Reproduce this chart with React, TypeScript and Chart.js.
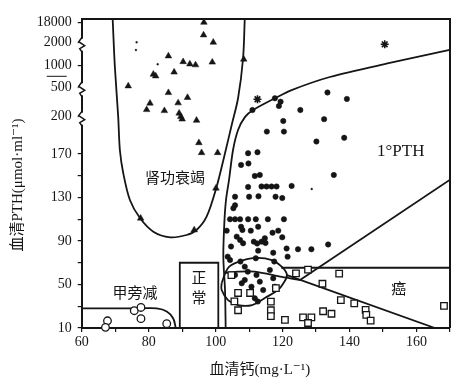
import React, { useEffect, useRef } from "react";
import { Chart, registerables } from "chart.js";

Chart.register(...registerables);

// ---------- axis definitions ----------
const X_MIN = 60;
const X_MAX = 170;
const xLabelled = [60, 80, 100, 120, 140, 160];

const yTicks = [10, 30, 50, 70, 90, 110, 130, 150, 170, 200, 500, 1000, 2000, 18000];
const yLabelled = [10, 50, 90, 130, 170, 200, 500, 1000, 2000, 18000];
const Y_MIN = 10;
const Y_TOP = 20650;

// broken (compressed) upper part of the PTH axis: value -> axis unit
const breakValues = [170, 200, 500, 1000, 2000, 18000];
const breakUnits = [170, 204.3, 231.3, 251.2, 272.3, 291.0];
const breakMarks = [2000, 500, 200];

// ---------- data: [serum Ca (mg/L), PTH] ----------
const renalFailure: [number, number][] = [
  [96.5, 18000], [96.4, 8070], [99.3, 2300], [85.9, 1420], [90.3, 1170], [92.3, 1070],
  [94.0, 1030], [99.0, 1150], [87.6, 850], [81.4, 800], [82.1, 760], [73.9, 530],
  [85.9, 445], [91.6, 395], [80.4, 337], [88.8, 340], [79.4, 271], [84.7, 261],
  [89.1, 235], [89.6, 200], [90.0, 198], [94.3, 197], [95.0, 179], [95.8, 171],
  [100.6, 171], [108.4, 1278], [100.1, 138.5], [93.6, 100.1], [77.6, 110.9],
];

const primaryHPT: [number, number][] = [
  [117.7, 388], [111.0, 268], [119.4, 353], [118.9, 309], [133.4, 447], [139.2, 381],
  [125.3, 268], [132.4, 198], [120.2, 196.5], [120.4, 188], [115.3, 188], [130.1, 180],
  [138.4, 183], [112.5, 171.4], [109.7, 170.6], [109.8, 161.3], [107.6, 159.9],
  [113.2, 150.7], [111.7, 149.8], [135.3, 150.7], [109.7, 139.7], [113.7, 140.1],
  [115.2, 140.1], [116.7, 140.1], [118.2, 140.1], [122.7, 140.6], [105.8, 130.7],
  [110.0, 130.7], [112.8, 131.1], [117.9, 130.7], [119.9, 129.5], [105.8, 122.8],
  [105.3, 120.1], [104.3, 110], [105.8, 110], [107.3, 110], [109.7, 110], [112.0, 110],
  [115.6, 110], [120.4, 110], [103.3, 99.5], [107.6, 103.1], [108.0, 100.1], [110.5, 99.5],
  [112.7, 103.1], [117.0, 97.6], [118.7, 99.5], [119.9, 93.4], [106.3, 94.0], [107.3, 90.9],
  [108.2, 87.9], [111.4, 89.4], [112.4, 87.7], [113.7, 89.4], [114.7, 92.5], [114.9, 88.2],
  [104.6, 84.9], [112.7, 81.1], [117.2, 79.2], [121.2, 83.1], [124.6, 82.4], [128.6, 82.4],
  [133.6, 86.8], [121.5, 75.6], [103.6, 75.6], [104.3, 72.5], [107.4, 71.1], [112.0, 74.1],
  [117.5, 71.1], [108.7, 66.4], [109.6, 61.8], [112.2, 58.7], [116.2, 63.3], [117.2, 55.7],
  [105.8, 58.7], [108.7, 54.1], [107.8, 51.1], [110.7, 48.0], [113.2, 52.6], [114.2, 44.9],
  [111.7, 37.3], [117.7, 48.0], [112.6, 34.4],
];

const hypoPara: [number, number][] = [
  [67.7, 16.6], [67.1, 10.6], [75.7, 25.9], [77.7, 28.9], [77.7, 18.6], [85.4, 14.0],
];

const cancer: [number, number][] = [
  [104.7, 58.7], [106.7, 42.2], [110.3, 42.2], [105.6, 34.4], [106.7, 26.3], [116.5, 34.2],
  [116.5, 26.3], [116.5, 21.0], [118.0, 46.6], [120.7, 17.4], [124.0, 60.2], [127.6, 63.6],
  [126.1, 19.7], [128.6, 19.7], [127.6, 14.6], [131.9, 50.7], [132.1, 25.4], [134.6, 23.1],
  [136.9, 60.0], [137.4, 35.7], [141.4, 32.6], [144.8, 26.6], [145.0, 22.1], [146.3, 16.8],
  [168.2, 30.4],
];

const starred: [number, number][] = [[150.5, 1930], [112.5, 378]];
const specks: [number, number][] = [[76.4, 2315], [76.2, 1683], [82.7, 1061], [128.7, 137.8]];

// ---------- region boundaries ----------
const renalCurve: [number, number][] = [
  [69.25, 20650], [69.9, 980], [70.9, 200], [71.4, 173.2], [72.4, 152.5], [74.4, 127.7],
  [77.4, 111.1], [81.4, 98.6], [86.4, 93.4], [91.3, 95.5], [94.3, 100.1], [97.3, 112.3],
  [100.3, 139.9], [102.8, 170.6], [104.8, 193.3], [106.7, 388], [108.2, 1322], [108.7, 20650],
];
const primaryUpper: [number, number][] = [
  [103.0, 10], [102.8, 44.9], [102.3, 75.6], [102.6, 106.6], [103.1, 127.7], [104.0, 146.1],
  [105.2, 173.2], [106.7, 189.3], [108.8, 199.8], [111.2, 268], [117.7, 388], [122.7, 472],
  [134.1, 738], [152.0, 1117], [169.9, 1683],
];
const primaryLower: [number, number][] = [[169.9, 146.1], [125.2, 54.1]];
const primaryInner: [number, number][] = [
  [125.2, 54.1], [119.8, 56.9], [111.7, 61.8], [106.7, 61.8], [102.8, 60.6],
];
const cancerTop: [number, number][] = [[119.6, 65.4], [170, 65.4]];
const cancerDiagonal: [number, number][] = [[121.3, 58.7], [165.5, 10]];
const overlapBlob: [number, number][] = [
  [101.8, 51.4], [103.7, 65.2], [106.7, 70.7], [111.7, 74.4], [116.8, 72.5], [119.8, 66.1],
  [121.3, 58.7], [120.1, 50.5], [118.6, 44.9], [114.7, 37.6], [110.9, 31.1], [106.7, 31.1],
  [103.7, 35.7], [101.8, 44.9], [101.8, 51.4],
];
const normalBox: [number, number][] = [[89.3, 10], [89.3, 70], [100.8, 70], [100.8, 10]];
const hypoBoundary: [number, number][] = [
  [60, 28.1], [78, 28.1], [82.4, 28], [85.4, 25.2], [87.3, 19], [88.1, 10],
];

// region labels [text, Ca, PTH]
const regionLabels: [string, number, number, string][] = [
  ["肾功衰竭", 87.9, 148.9, "cjk"],
  ["甲旁减", 75.9, 43.1, "cjk"],
  ["正", 95.0, 56.9, "cjk"],
  ["常", 95.0, 38.5, "cjk"],
  ["癌", 154.7, 46.8, "cjk"],
  ["1°PTH", 155.3, 171.6, "latin"],
];

const xTitle = "血清钙(mg·L⁻¹)";
const yTitle = "血清PTH(μmol·ml⁻¹)";

// ---------- helpers ----------
const toU = (v: number): number => {
  if (v <= breakValues[0]) return v;
  for (let i = 0; i < breakValues.length - 1; i++) {
    if (v <= breakValues[i + 1] || i === breakValues.length - 2) {
      const t = (v - breakValues[i]) / (breakValues[i + 1] - breakValues[i]);
      return breakUnits[i] + t * (breakUnits[i + 1] - breakUnits[i]);
    }
  }
  return v;
};
const pts = (arr: [number, number][]) => arr.map(([x, y]) => ({ x, y: toU(y) }));

const INK = "#151515";
const SERIF = "'Liberation Serif', 'DejaVu Serif', 'Noto Sans CJK SC', serif";
const CJK = "'Noto Sans CJK SC', 'Noto Sans CJK JP', sans-serif";

const pointSet = (label: string, data: [number, number][], style: string, radius: number, fill: string, bw = 1.2) => ({
  label,
  data: pts(data),
  showLine: false,
  pointStyle: style,
  pointRadius: radius,
  pointBackgroundColor: fill,
  pointBorderColor: INK,
  pointBorderWidth: bw,
  clip: false as any,
});
const lineSet = (label: string, data: [number, number][], tension: number) => ({
  label,
  data: pts(data),
  showLine: true,
  borderColor: INK,
  borderWidth: 1.8,
  pointRadius: 0,
  tension,
  fill: false,
});

const decorPlugin = {
  id: "decor",
  afterDraw(chart: any) {
    const { ctx, chartArea: a, scales } = chart;
    const xs = scales.x;
    const ys = scales.y;
    ctx.save();
    // frame: top and right sides
    ctx.strokeStyle = INK;
    ctx.lineWidth = 2;
    ctx.beginPath();
    ctx.moveTo(a.left, a.top);
    ctx.lineTo(a.right, a.top);
    ctx.lineTo(a.right, a.bottom);
    ctx.stroke();

    // axis break marks
    breakMarks.forEach((v) => {
      const c = ys.getPixelForValue(toU(v)) + 2;
      ctx.fillStyle = "#fff";
      ctx.fillRect(a.left - 3, c - 6, 6, 12);
      ctx.strokeStyle = INK;
      ctx.lineWidth = 1.5;
      ctx.beginPath();
      ctx.moveTo(a.left, c - 7);
      ctx.lineTo(a.left - 3, c - 3);
      ctx.lineTo(a.left + 3, c + 1);
      ctx.lineTo(a.left - 2, c + 4);
      ctx.lineTo(a.left, c + 7);
      ctx.stroke();
    });
    // small dash above the 500 label
    const d = ys.getPixelForValue(toU(500)) - 11;
    ctx.lineWidth = 1;
    ctx.beginPath();
    ctx.moveTo(a.left - 35, d);
    ctx.lineTo(a.left - 15, d);
    ctx.stroke();

    // region labels
    ctx.fillStyle = INK;
    ctx.textAlign = "center";
    ctx.textBaseline = "middle";
    regionLabels.forEach(([t, x, y, kind]) => {
      ctx.font = kind === "cjk" ? `15px ${CJK}` : `17px ${SERIF}`;
      ctx.fillText(t, xs.getPixelForValue(x), ys.getPixelForValue(toU(y)));
    });

    // axis titles
    ctx.font = `15px ${SERIF}`;
    ctx.fillText(xTitle, (a.left + a.right) / 2 - 6, 370);
    ctx.save();
    ctx.translate(18, 185);
    ctx.rotate(-Math.PI / 2);
    ctx.fillText(yTitle, 0, 0);
    ctx.restore();
    ctx.restore();
  },
};

export default function App() {
  const ref = useRef<HTMLCanvasElement | null>(null);
  useEffect(() => {
    document.body.style.margin = "0";
    if (!ref.current) return;
    const chart = new Chart(ref.current, {
      type: "scatter",
      data: {
        datasets: [
          pointSet("* ", starred, "star", 4, INK, 1.6),
          pointSet("癌", cancer, "rect", 4.6, "#fff", 1.3),
          pointSet("甲旁减", hypoPara, "circle", 3.8, "#fff", 1.3),
          pointSet("1°PTH", primaryHPT, "circle", 2.7, INK, 0.5),
          pointSet("肾功衰竭", renalFailure, "triangle", 3.8, INK, 0.5),
          pointSet("specks", specks, "circle", 1, INK, 0.3),
          lineSet("renal", renalCurve, 0.3),
          lineSet("primaryUpper", primaryUpper, 0.3),
          lineSet("primaryLower", primaryLower, 0),
          lineSet("primaryInner", primaryInner, 0.3),
          lineSet("cancerTop", cancerTop, 0),
          lineSet("cancerDiag", cancerDiagonal, 0),
          lineSet("blob", overlapBlob, 0.4),
          lineSet("normal", normalBox, 0),
          lineSet("hypo", hypoBoundary, 0.4),
        ] as any,
      },
      options: {
        animation: false,
        responsive: false,
        events: [],
        layout: { padding: { top: 19, right: 8, left: 0, bottom: 0 } },
        plugins: { legend: { display: false }, tooltip: { enabled: false }, title: { display: false } },
        scales: {
          x: {
            type: "linear",
            min: X_MIN,
            max: X_MAX,
            afterFit: (s: any) => { s.height = 52; },
            ticks: {
              stepSize: 10,
              autoSkip: false,
              maxRotation: 0,
              padding: 2,
              color: INK,
              font: { family: SERIF, size: 14 },
              callback: (v: any) => (xLabelled.includes(Number(v)) ? String(v) : ""),
            },
            grid: { display: true, drawOnChartArea: false, drawTicks: true, tickLength: 4, color: INK, lineWidth: 1.2 },
            border: { display: true, color: INK, width: 2 },
          },
          y: {
            type: "linear",
            min: Y_MIN,
            max: toU(Y_TOP),
            afterFit: (s: any) => { s.width = 81.7; },
            afterBuildTicks: (s: any) => { s.ticks = yTicks.map((v) => ({ value: toU(v) })); },
            ticks: {
              autoSkip: false,
              padding: 6,
              color: INK,
              font: { family: SERIF, size: 14 },
              callback: (_v: any, i: number) => (yLabelled.includes(yTicks[i]) ? String(yTicks[i]) : ""),
            },
            grid: { display: true, drawOnChartArea: false, drawTicks: true, tickLength: 4, color: INK, lineWidth: 1.2 },
            border: { display: true, color: INK, width: 2 },
          },
        },
      } as any,
      plugins: [decorPlugin],
    });
    return () => chart.destroy();
  }, []);
  return (
    <div style={{ position: "fixed", left: 0, top: 0, width: 458, height: 380, background: "#fff" }}>
      <canvas ref={ref} width={458} height={380} />
    </div>
  );
}
